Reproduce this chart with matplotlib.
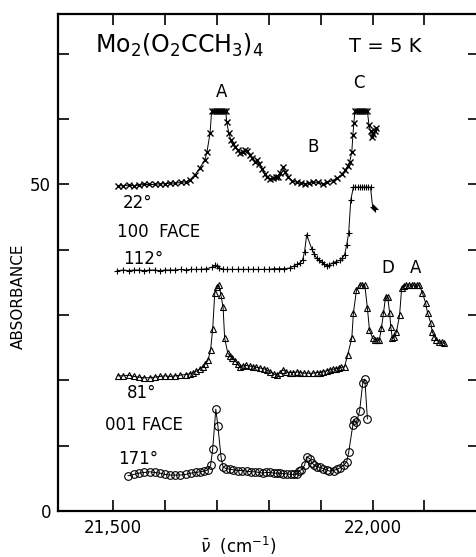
import matplotlib
matplotlib.use("Agg")
from matplotlib import pyplot as plt

# wavenumber (cm-1), absorbance
trace_22 = [(21510, 49.8), (21520, 49.8), (21530, 49.9), (21540, 49.8), (21550, 49.9),
            (21560, 50.0), (21570, 50.0), (21580, 50.0), (21590, 50.1), (21600, 50.1),
            (21610, 50.2), (21620, 50.2), (21630, 50.3), (21640, 50.4), (21648, 50.7),
            (21658, 51.5), (21667, 52.5), (21677, 53.8), (21681, 55.0), (21687, 57.9),
            (21690, 61.3), (21694, 61.3), (21698, 61.3), (21702, 61.3), (21706, 61.3),
            (21710, 61.3), (21714, 61.3), (21717, 61.3), (21719, 59.6), (21723, 57.9),
            (21727, 56.8), (21731, 56.2), (21735, 55.7), (21740, 55.2), (21744, 54.8),
            (21750, 55.0), (21755, 55.3), (21758, 55.1), (21763, 54.5), (21768, 54.0),
            (21773, 53.4), (21777, 53.7), (21781, 53.2), (21787, 52.4), (21792, 51.6),
            (21796, 51.1), (21802, 50.9), (21808, 51.0), (21813, 51.1), (21817, 51.2),
            (21822, 51.8), (21827, 52.6), (21832, 51.9), (21837, 51.1), (21845, 50.6),
            (21854, 50.3), (21862, 50.2), (21869, 50.1), (21877, 50.2), (21885, 50.4),
            (21894, 50.3), (21904, 50.1), (21913, 50.3), (21923, 50.6), (21932, 51.0),
            (21942, 51.6), (21947, 52.2), (21952, 52.8), (21956, 53.5), (21960, 55.0),
            (21962, 57.5), (21964, 59.4), (21966, 61.3), (21970, 61.3), (21974, 61.3),
            (21978, 61.3), (21982, 61.3), (21986, 61.3), (21990, 61.3), (21993, 59.1),
            (21996, 58.2), (21998, 57.2), (22001, 57.8), (22004, 58.2), (22006, 58.7)]

trace_112 = [(21508, 36.8), (21520, 36.9), (21530, 36.8), (21540, 36.9), (21550, 36.9),
             (21560, 36.8), (21570, 36.9), (21580, 36.9), (21590, 36.8), (21600, 36.9),
             (21610, 36.9), (21620, 36.9), (21630, 37.0), (21640, 36.9), (21650, 37.0),
             (21660, 37.0), (21670, 37.0), (21680, 37.1), (21690, 37.3), (21696, 37.6),
             (21700, 37.5), (21705, 37.2), (21712, 37.0), (21720, 37.0), (21730, 37.0),
             (21740, 37.0), (21750, 37.0), (21760, 37.0), (21770, 37.0), (21780, 37.0),
             (21790, 37.0), (21800, 37.0), (21810, 37.1), (21820, 37.1), (21830, 37.1),
             (21840, 37.2), (21848, 37.5), (21855, 37.8), (21860, 38.0), (21865, 38.4),
             (21869, 39.7), (21873, 42.3), (21883, 40.1), (21888, 39.3), (21892, 38.7),
             (21897, 38.4), (21902, 38.1), (21907, 37.8), (21912, 37.5), (21917, 37.7),
             (21923, 38.0), (21930, 38.2), (21937, 38.4), (21942, 38.8), (21946, 39.2),
             (21950, 40.7), (21954, 42.6), (21958, 47.6), (21963, 49.6), (21967, 49.6),
             (21971, 49.6), (21975, 49.6), (21979, 49.6), (21983, 49.6), (21987, 49.6),
             (21991, 49.6), (21996, 49.6), (22000, 46.6), (22002, 46.4), (22004, 46.2)]

trace_81 = [(21510, 20.7), (21520, 20.7), (21530, 20.8), (21540, 20.6), (21550, 20.5),
            (21560, 20.4), (21571, 20.4), (21580, 20.5), (21590, 20.6), (21600, 20.7),
            (21610, 20.6), (21620, 20.7), (21629, 20.8), (21640, 20.9), (21648, 21.0),
            (21654, 21.1), (21660, 21.4), (21667, 21.7), (21673, 22.1), (21678, 22.5),
            (21683, 23.1), (21688, 24.7), (21692, 27.9), (21696, 33.4), (21700, 34.3),
            (21704, 34.6), (21708, 33.0), (21712, 31.2), (21715, 26.5), (21721, 24.2),
            (21725, 23.8), (21729, 23.4), (21735, 23.0), (21740, 22.5), (21744, 22.1),
            (21750, 22.2), (21756, 22.3), (21763, 22.2), (21770, 22.1), (21776, 22.0),
            (21783, 21.9), (21790, 21.8), (21796, 21.6), (21803, 21.3), (21810, 21.0),
            (21815, 20.8), (21821, 21.2), (21827, 21.6), (21834, 21.3), (21840, 21.2),
            (21847, 21.2), (21854, 21.3), (21861, 21.2), (21868, 21.1), (21875, 21.1),
            (21885, 21.1), (21892, 21.2), (21898, 21.2), (21905, 21.3), (21912, 21.5),
            (21918, 21.6), (21923, 21.7), (21930, 21.8), (21935, 21.9), (21940, 22.0),
            (21946, 22.1), (21952, 23.9), (21960, 26.5), (21963, 30.3), (21969, 33.8),
            (21975, 34.6), (21980, 34.6), (21985, 34.6), (21990, 31.1), (21994, 27.7),
            (22000, 26.5), (22004, 26.2), (22008, 26.2), (22013, 26.2), (22017, 28.0),
            (22021, 30.3), (22025, 32.8), (22029, 32.8), (22033, 30.3), (22035, 28.2),
            (22038, 26.5), (22042, 26.6), (22046, 27.4), (22052, 30.0), (22056, 34.1),
            (22060, 34.5), (22065, 34.6), (22070, 34.6), (22075, 34.6), (22080, 34.6),
            (22085, 34.6), (22090, 34.6), (22096, 33.4), (22102, 31.9), (22106, 30.3),
            (22112, 28.8), (22115, 27.4), (22119, 26.7), (22123, 26.2), (22128, 25.9),
            (22133, 25.9), (22138, 25.7)]

trace_171 = [(21529, 5.4), (21540, 5.6), (21550, 5.8), (21560, 5.9), (21571, 6.0),
             (21580, 5.9), (21590, 5.8), (21600, 5.6), (21610, 5.5), (21620, 5.5),
             (21629, 5.5), (21640, 5.6), (21650, 5.8), (21660, 5.9), (21667, 6.0),
             (21675, 6.1), (21683, 6.3), (21688, 7.0), (21692, 9.5), (21698, 15.6),
             (21702, 13.0), (21708, 8.3), (21712, 6.7), (21718, 6.5), (21725, 6.4),
             (21732, 6.3), (21740, 6.2), (21748, 6.2), (21758, 6.1), (21766, 6.0),
             (21774, 6.0), (21781, 5.9), (21788, 5.8), (21795, 5.9), (21802, 5.9),
             (21810, 5.8), (21815, 5.8), (21821, 5.8), (21828, 5.7), (21835, 5.7),
             (21842, 5.6), (21848, 5.6), (21854, 5.7), (21859, 6.2), (21863, 6.3),
             (21869, 7.0), (21873, 8.3), (21879, 8.0), (21883, 7.4), (21888, 7.0),
             (21893, 6.8), (21898, 6.7), (21905, 6.5), (21912, 6.3), (21917, 6.1),
             (21925, 6.2), (21932, 6.4), (21937, 6.6), (21944, 7.0), (21950, 7.5),
             (21954, 9.0), (21962, 13.2), (21965, 13.9), (21969, 13.6), (21975, 15.3),
             (21981, 19.6), (21985, 20.2), (21990, 14.1)]

x_ticks = [21500, 21600, 21700, 21800, 21900, 22000, 22100]
x_ticklabels = ["21,500", "", "", "", "", "22,000", ""]
y_ticks = [0, 10, 20, 30, 40, 50, 60, 70]
y_ticklabels = ["0", "", "", "", "", "50", "", ""]

fig = plt.figure(figsize=(4.76, 5.57), dpi=100)
# right spine sits just past the image edge, like the scan
ax = fig.add_axes([58 / 476, 46 / 557, 421 / 476, 497 / 557])

styles = [
    (trace_22, dict(marker="x", ms=4.5, mew=1.0, mfc="none")),
    (trace_112, dict(marker="+", ms=5, mew=0.8, mfc="none")),
    (trace_81, dict(marker="^", ms=4.5, mew=0.8, mfc="none")),
    (trace_171, dict(marker="o", ms=5.5, mew=0.8, mfc="none")),
]
for data, st in styles:
    xs, ys = zip(*data)
    ax.plot(xs, ys, color="black", lw=0.7, mec="black", **st)

ax.set_xlim(21394, 22205)
ax.set_ylim(0, 76.1)
ax.set_xticks(x_ticks)
ax.set_xticklabels(x_ticklabels)
ax.set_yticks(y_ticks)
ax.set_yticklabels(y_ticklabels)
ax.tick_params(direction="in", length=8, width=1.2, labelsize=12,
               top=True, right=True, color="black")
ax.tick_params(axis="y", pad=5)
ax.tick_params(axis="x", pad=6)
for s in ax.spines.values():
    s.set_linewidth(1.6)

# labels inside the plot
ax.text(21465, 70.1, r"Mo$_2$(O$_2$CCH$_3$)$_4$", fontsize=17, va="baseline")
ax.text(21954, 70.3, "T = 5 K", fontsize=14, va="baseline")
ax.text(21710, 63.4, "A", fontsize=12, ha="center", va="baseline")
ax.text(21885, 55.0, "B", fontsize=12, ha="center", va="baseline")
ax.text(21973, 64.8, "C", fontsize=12, ha="center", va="baseline")
ax.text(22029, 36.4, "D", fontsize=12, ha="center", va="baseline")
ax.text(22083, 36.4, "A", fontsize=12, ha="center", va="baseline")
ax.text(21519, 46.4, "22°", fontsize=12, va="baseline")
ax.text(21508, 42.0, "100  FACE", fontsize=12, va="baseline")
ax.text(21519, 37.8, "112°", fontsize=12, va="baseline")
ax.text(21527, 17.3, "81°", fontsize=12, va="baseline")
ax.text(21485, 12.4, "001 FACE", fontsize=12, va="baseline")
ax.text(21510, 7.2, "171°", fontsize=12, va="baseline")

fig.text(18 / 476, 1 - 296 / 557, "ABSORBANCE", rotation=90,
         fontsize=11, ha="center", va="center")
fig.text(238 / 476, 1 - 553 / 557, r"$\bar{\nu}$  (cm$^{-1}$)",
         fontsize=12, ha="center", va="baseline")

fig.savefig("out.png", dpi=100)
